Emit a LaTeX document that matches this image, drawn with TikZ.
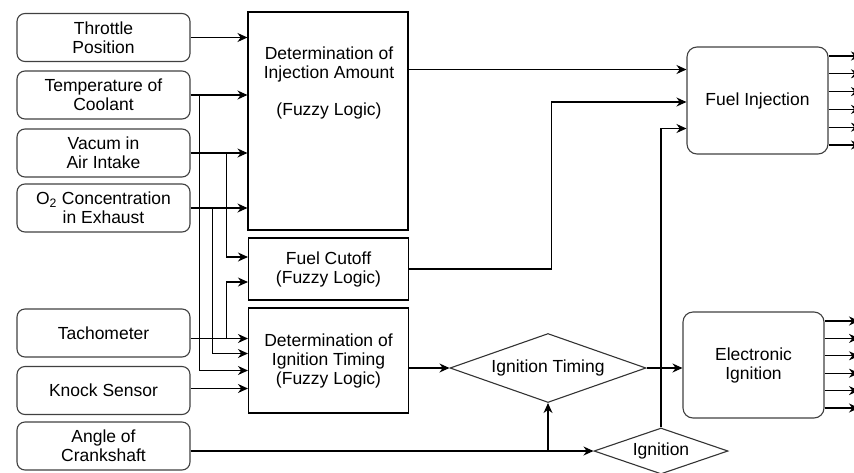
\documentclass[tikz,border=0pt]{standalone}
\usepackage{fontspec}
\setmainfont{Liberation Sans}
\usepackage{tikz}
\usetikzlibrary{arrows.meta,shapes.geometric}

\begin{document}
\begin{tikzpicture}[x=1pt, y=-1pt, line width=1.1pt,
  every node/.style={font=\fontsize{17.5}{19}\selectfont, inner sep=0pt, align=center},
  inbox/.style={draw=black!75, rounded corners=8pt, minimum width=173pt, minimum height=48pt},
  fbox/.style={draw, minimum width=160pt},
  outbox/.style={draw=black!75, rounded corners=10pt, minimum width=141pt, minimum height=106pt},
  dia/.style={draw=black!80, diamond, shape aspect=2.9},
  arr/.style={-{Stealth[length=10pt,width=9pt]}}]
\useasboundingbox (0,0) rectangle (854,472);
\node[inbox] (tp) at (103.5,37.5) {Throttle\\Position};
\node[inbox] (tc) at (103.5,95) {Temperature of\\Coolant};
\node[inbox] (va) at (103.5,153) {Vacum in\\Air Intake};
\node[inbox] (oc) at (103.5,208) {O\textsubscript{2} Concentration\\in Exhaust};
\node[inbox] (ta) at (103.5,333) {Tachometer};
\node[inbox] (ks) at (103.5,390.5) {Knock Sensor};
\node[inbox] (ac) at (103.5,446) {Angle of\\Crankshaft};
\node[fbox, minimum height=218pt] (inj) at (328,121) {};
\node (injtxt) at (329,83) {Determination of\\Injection Amount\\[18pt](Fuzzy Logic)};
\node[fbox, minimum height=62pt] (cut) at (328.5,269) {Fuel Cutoff\\(Fuzzy Logic)};
\node[fbox, minimum height=105pt] (ign) at (328.5,360.5) {Determination of\\Ignition Timing\\(Fuzzy Logic)};
\node[outbox, minimum height=107pt] (fi) at (757.5,100.5) {Fuel Injection};
\node[outbox] (ei) at (753.5,365) {Electronic\\Ignition};
\node[dia, minimum width=196pt, minimum height=69pt] (itd) at (548,368) {Ignition Timing};
\node[dia, minimum width=134pt, minimum height=46pt] (igd) at (661,451) {Ignition};
\coordinate (fa) at ([yshift=31pt]fi.west); \coordinate (fb) at ([yshift=-1.5pt]fi.west); \coordinate (fc) at ([yshift=-28pt]fi.west);
\coordinate (c1) at ([yshift=12pt]cut.west); \coordinate (c2) at ([yshift=-13pt]cut.west);
\coordinate (i1) at ([yshift=22pt]ign.west); \coordinate (i2) at ([yshift=7pt]ign.west);
\coordinate (i3) at ([yshift=-10pt]ign.west); \coordinate (i4) at ([yshift=-28pt]ign.west);
\draw[arr] (tp.east) -- (tp.east -| inj.west); \draw[arr] (tc.east) -- (tc.east -| inj.west);
\draw[arr] (va.east) -- (va.east -| inj.west); \draw[arr] (oc.east) -- (oc.east -| inj.west);
\draw[arr] ([xshift=9pt]tc.east) |- (i3); \draw[arr] ([xshift=22pt]oc.east) |- (i2);
\draw[arr] ([xshift=36pt]va.east) |- (c1); \draw[arr] (i1 -| ta.east) -- (i1);
\draw[arr] (i1 -| ta.east) ++(36,0) |- (c2); \draw[arr] (i4 -| ks.east) -- (i4);
\draw[arr] (fa -| inj.east) -- (fa); \draw[arr] (cut.east) -- ++(142,0) |- (fb);
\draw[arr] (igd.north) |- (fc);
\draw[arr] (itd.west -| ign.east) -- (itd.west); \draw[arr] (itd.east) -- (itd.east -| ei.west);
\draw[arr] (igd.west -| ac.east) -- (igd.west); \draw[arr] (itd.south |- igd.west) -- (itd.south);
\foreach \k in {0,...,5} {
  \coordinate (fo\k) at (861,56+17.8*\k); \draw[arr] (fo\k -| fi.east) -- (fo\k);
  \coordinate (eo\k) at (859,321+17.4*\k); \draw[arr] (eo\k -| ei.east) -- (eo\k);
}
\end{tikzpicture}
\end{document}
